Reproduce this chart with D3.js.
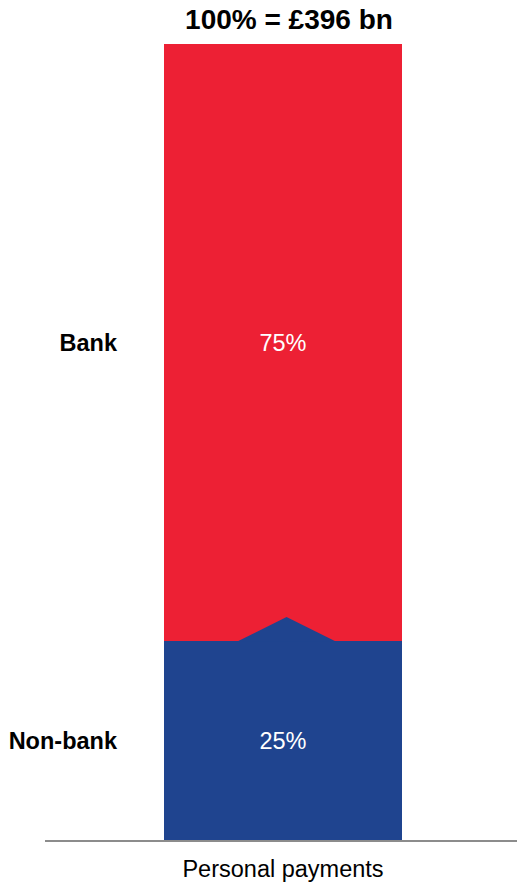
<!DOCTYPE html>
<html>
<head>
<meta charset="utf-8">
<script src="https://cdn.jsdelivr.net/npm/d3@7"></script>
<style>
  html, body { margin: 0; padding: 0; background: #fff; }
  svg { display: block; font-family: "Liberation Sans", Arial, sans-serif; }
</style>
</head>
<body>
<svg id="chart" width="517" height="882"></svg>
<script>
// Share of personal payments by provider type (percent of total)
const categories = ["Personal payments"];
const segments = ["Non-bank", "Bank"];
const values = [25, 75];
const valueLabels = ["25%", "75%"];
const totalLabel = "100% = £396 bn";
const colors = ["#1F448F", "#ED2034"];

const svg = d3.select("#chart");

const x = d3.scaleBand().domain(categories).range([164, 402]).padding(0);
const y = d3.scaleLinear().domain([0, 100]).range([840, 44]);

// stacked segments, bottom to top
const stacked = [];
let acc = 0;
values.forEach((v, i) => {
  stacked.push({ name: segments[i], label: valueLabels[i], color: colors[i], y0: acc, y1: acc + v });
  acc += v;
});

const cat = categories[0];
const bx = x(cat), bw = x.bandwidth();

svg.selectAll("rect.seg")
  .data(stacked)
  .join("rect")
  .attr("class", "seg")
  .attr("x", bx)
  .attr("width", bw)
  .attr("y", d => y(d.y1))
  .attr("height", d => y(d.y0) - y(d.y1))
  .attr("fill", d => d.color)
  .attr("shape-rendering", "crispEdges");

// chevron marking the split between the two segments
const split = y(stacked[0].y1);
const notchCx = bx + bw * 0.515;
const notchHalf = bw * 0.207;
const notchH = (y(0) - y(100)) * 0.03;
svg.append("path")
  .attr("d", `M${notchCx - notchHalf},${split + 0.5} L${notchCx},${split - notchH} L${notchCx + notchHalf},${split + 0.5} Z`)
  .attr("fill", colors[0]);

// value labels inside the bar
svg.selectAll("text.val")
  .data(stacked)
  .join("text")
  .attr("class", "val")
  .attr("x", bx + bw / 2)
  .attr("y", d => (y(d.y0) + y(d.y1)) / 2)
  .attr("dy", "0.35em")
  .attr("text-anchor", "middle")
  .attr("fill", "#fff")
  .attr("font-size", 23.5)
  .text(d => d.label);

// segment names on the left
svg.selectAll("text.name")
  .data(stacked)
  .join("text")
  .attr("class", "name")
  .attr("x", 117)
  .attr("y", d => (y(d.y0) + y(d.y1)) / 2)
  .attr("dy", "0.35em")
  .attr("text-anchor", "end")
  .attr("font-weight", "bold")
  .attr("font-size", 23.5)
  .attr("fill", "#000")
  .text(d => d.name);

// total above the bar
svg.append("text")
  .attr("x", bx + bw / 2 + 6)
  .attr("y", 29)
  .attr("text-anchor", "middle")
  .attr("font-weight", "bold")
  .attr("font-size", 28)
  .attr("fill", "#000")
  .text(totalLabel);

// baseline and category axis
const axis = d3.axisBottom(x).tickSize(0).tickPadding(0);
const gx = svg.append("g").attr("transform", `translate(0,${y(0) + 1})`).call(axis);
gx.select(".domain").remove();
gx.append("line")
  .attr("x1", 45).attr("x2", 517)
  .attr("y1", 0).attr("y2", 0)
  .attr("stroke", "#8C8C8C")
  .attr("stroke-width", 2);
gx.selectAll(".tick text")
  .attr("y", 36)
  .attr("dy", 0)
  .attr("font-size", 23.5)
  .attr("font-family", "Liberation Sans, Arial, sans-serif")
  .attr("fill", "#000");
</script>
</body>
</html>
